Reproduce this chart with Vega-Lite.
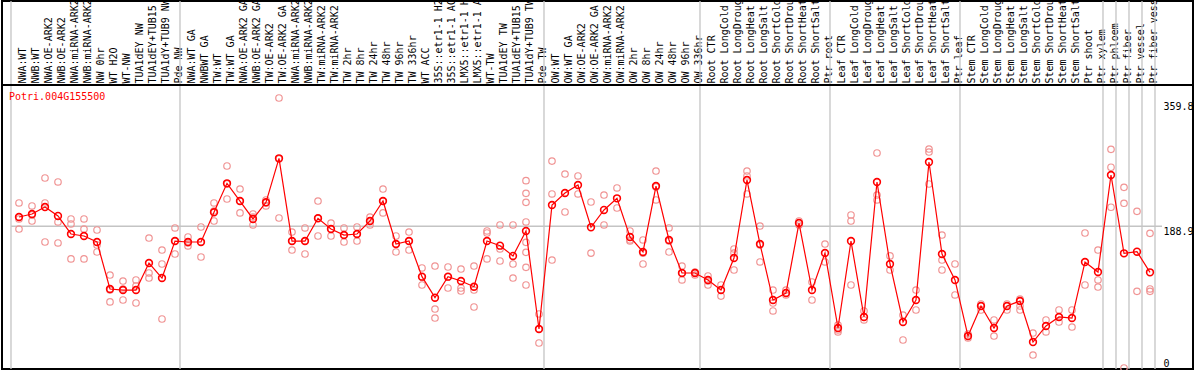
{
"$schema": "https://vega.github.io/schema/vega-lite/v6.json",
"autosize": "none",
"padding": {"left": 2, "top": 1, "right": 1, "bottom": 1},
"width": 1191,
"height": 368,
"background": "white",
"config": {"view": {"stroke": "black", "strokeWidth": 2}, "font": "DejaVu Sans Mono"},
"datasets": {
"means": [
{"cat":"NWA:WT","v":201.2},{"cat":"NWB:WT","v":205.2},{"cat":"NWA:OE-ARK2","v":214.5},{"cat":"NWB:OE-ARK2","v":202.6},
{"cat":"NWA:miRNA-ARK2","v":178.6},{"cat":"NWB:miRNA-ARK2","v":175.9},{"cat":"NW 0hr","v":167.9},{"cat":"WT H2O","v":105.3},
{"cat":"WT-NW","v":103.9},{"cat":"TUA1dEY NW","v":103.9},{"cat":"TUA1dEY+TUB15 NW","v":139.9},{"cat":"TUA1dY+TUB9 NW","v":119.9},
{"cat":"Pde NW","v":169.2},{"cat":"NWA:WT GA","v":167.9},{"cat":"NWBWT GA","v":167.9},{"cat":"TW:WT","v":207.5},
{"cat":"TW:WT GA","v":246.1},{"cat":"NWA:OE-ARK2 GA","v":222.5},{"cat":"NWB:OE-ARK2 GA","v":198.6},{"cat":"TW:OE-ARK2","v":220.8},
{"cat":"TW:OE-ARK2 GA","v":279.4},{"cat":"NWA:miRNA-ARK2 GA","v":169.2},{"cat":"NWB:miRNA-ARK2 GA","v":169.2},{"cat":"TW:miRNA-ARK2","v":199.5},
{"cat":"TW:miRNA-ARK2 GA","v":185.2},{"cat":"TW 2hr","v":177.2},{"cat":"TW 8hr","v":178.6},{"cat":"TW 24hr","v":195.9},
{"cat":"TW 48hr","v":222.5},{"cat":"TW 96hr","v":165.2},{"cat":"TW 336hr","v":169.2},{"cat":"WT ACC","v":121.7},
{"cat":"35S::etr1-1 H2O","v":93.7},{"cat":"35S::etr1-1 ACC","v":121.7},{"cat":"LMX5::etr1-1 H2O","v":115.9},{"cat":"LMX5::etr1-1 ACC","v":108.3},
{"cat":"WT-TW","v":169.2},{"cat":"TUA1dEY TW","v":163.0},{"cat":"TUA1dEY+TUB15 TW","v":149.3},{"cat":"TUA1dY+TUB9 TW","v":182.6},
{"cat":"Pde TW","v":52.0},{"cat":"OW:WT","v":217.2},{"cat":"OW:WT GA","v":233.2},{"cat":"OW:OE-ARK2","v":243.9},
{"cat":"OW:OE-ARK2 GA","v":187.5},{"cat":"OW:miRNA-ARK2","v":210.6},{"cat":"OW:miRNA-ARK2 GA","v":226.1},{"cat":"OW 2hr","v":174.6},
{"cat":"OW 8hr","v":154.6},{"cat":"OW 24hr","v":242.5},{"cat":"OW 48hr","v":170.6},{"cat":"OW 96hr","v":126.6},
{"cat":"OW 336hr","v":126.6},{"cat":"Root CTR","v":117.3},{"cat":"Root LongCold","v":103.9},{"cat":"Root LongDrought","v":146.6},
{"cat":"Root LongHeat","v":250.5},{"cat":"Root LongSalt","v":165.2},{"cat":"Root ShortCold","v":90.6},{"cat":"Root ShortDrought","v":99.9},
{"cat":"Root ShortHeat","v":193.2},{"cat":"Root ShortSalt","v":103.9},{"cat":"Ptr root","v":153.2},{"cat":"Leaf CTR","v":53.3},
{"cat":"Leaf LongCold","v":169.2},{"cat":"Leaf LongDrought","v":68.0},{"cat":"Leaf LongHeat","v":247.9},{"cat":"Leaf LongSalt","v":138.6},
{"cat":"Leaf ShortCold","v":61.3},{"cat":"Leaf ShortDrought","v":90.6},{"cat":"Leaf ShortHeat","v":274.5},{"cat":"Leaf ShortSalt","v":151.9},
{"cat":"Ptr leaf","v":117.3},{"cat":"Stem CTR","v":42.6},{"cat":"Stem LongCold","v":82.6},{"cat":"Stem LongDrought","v":53.3},
{"cat":"Stem LongHeat","v":82.6},{"cat":"Stem LongSalt","v":89.3},{"cat":"Stem ShortCold","v":34.6},{"cat":"Stem ShortDrought","v":56.0},
{"cat":"Stem ShortHeat","v":68.0},{"cat":"Stem ShortSalt","v":66.6},{"cat":"Ptr shoot","v":141.3},{"cat":"Ptr xylem","v":127.9},
{"cat":"Ptr phloem","v":257.2},{"cat":"Ptr fiber","v":152.8},{"cat":"Ptr vessel","v":155.0},{"cat":"Ptr fiber vessel","v":127.5}
],
"reps": [
{"cat":"NWA:WT","v":219.9},{"cat":"NWA:WT","v":185.2},{"cat":"NWA:WT","v":198.6},
{"cat":"NWB:WT","v":215.9},{"cat":"NWB:WT","v":195.9},{"cat":"NWB:WT","v":203.9},
{"cat":"NWA:OE-ARK2","v":253.2},{"cat":"NWA:OE-ARK2","v":219.9},{"cat":"NWA:OE-ARK2","v":167.9},
{"cat":"NWB:OE-ARK2","v":247.9},{"cat":"NWB:OE-ARK2","v":194.6},{"cat":"NWB:OE-ARK2","v":166.6},
{"cat":"NWA:miRNA-ARK2","v":198.6},{"cat":"NWA:miRNA-ARK2","v":191.9},{"cat":"NWA:miRNA-ARK2","v":145.3},
{"cat":"NWB:miRNA-ARK2","v":198.6},{"cat":"NWB:miRNA-ARK2","v":185.2},{"cat":"NWB:miRNA-ARK2","v":145.3},
{"cat":"NW 0hr","v":183.9},{"cat":"NW 0hr","v":163.9},{"cat":"NW 0hr","v":154.6},
{"cat":"WT H2O","v":123.9},{"cat":"WT H2O","v":103.9},{"cat":"WT H2O","v":88.0},
{"cat":"WT-NW","v":115.9},{"cat":"WT-NW","v":105.3},{"cat":"WT-NW","v":90.6},
{"cat":"TUA1dEY NW","v":117.3},{"cat":"TUA1dEY NW","v":109.3},{"cat":"TUA1dEY NW","v":86.6},
{"cat":"TUA1dEY+TUB15 NW","v":173.2},{"cat":"TUA1dEY+TUB15 NW","v":126.6},{"cat":"TUA1dEY+TUB15 NW","v":119.9},
{"cat":"TUA1dY+TUB9 NW","v":157.2},{"cat":"TUA1dY+TUB9 NW","v":138.6},{"cat":"TUA1dY+TUB9 NW","v":65.3},
{"cat":"Pde NW","v":186.6},{"cat":"Pde NW","v":169.2},{"cat":"Pde NW","v":151.9},
{"cat":"NWA:WT GA","v":174.6},{"cat":"NWA:WT GA","v":166.6},{"cat":"NWA:WT GA","v":162.6},
{"cat":"NWBWT GA","v":187.9},{"cat":"NWBWT GA","v":167.9},{"cat":"NWBWT GA","v":147.9},
{"cat":"TW:WT","v":219.9},{"cat":"TW:WT","v":195.9},{"cat":"TW:WT","v":209.2},
{"cat":"TW:WT GA","v":269.2},{"cat":"TW:WT GA","v":245.2},{"cat":"TW:WT GA","v":225.2},
{"cat":"NWA:OE-ARK2 GA","v":238.5},{"cat":"NWA:OE-ARK2 GA","v":222.5},{"cat":"NWA:OE-ARK2 GA","v":206.6},
{"cat":"NWB:OE-ARK2 GA","v":205.2},{"cat":"NWB:OE-ARK2 GA","v":201.2},{"cat":"NWB:OE-ARK2 GA","v":190.6},
{"cat":"TW:OE-ARK2","v":223.9},{"cat":"TW:OE-ARK2","v":219.9},{"cat":"TW:OE-ARK2","v":215.9},
{"cat":"TW:OE-ARK2 GA","v":359.8},{"cat":"TW:OE-ARK2 GA","v":278.5},{"cat":"TW:OE-ARK2 GA","v":199.9},
{"cat":"NWA:miRNA-ARK2 GA","v":181.2},{"cat":"NWA:miRNA-ARK2 GA","v":169.2},{"cat":"NWA:miRNA-ARK2 GA","v":157.2},
{"cat":"NWB:miRNA-ARK2 GA","v":186.6},{"cat":"NWB:miRNA-ARK2 GA","v":169.2},{"cat":"NWB:miRNA-ARK2 GA","v":151.9},
{"cat":"TW:miRNA-ARK2","v":222.5},{"cat":"TW:miRNA-ARK2","v":199.9},{"cat":"TW:miRNA-ARK2","v":175.9},
{"cat":"TW:miRNA-ARK2 GA","v":193.2},{"cat":"TW:miRNA-ARK2 GA","v":185.2},{"cat":"TW:miRNA-ARK2 GA","v":175.9},
{"cat":"TW 2hr","v":186.6},{"cat":"TW 2hr","v":177.2},{"cat":"TW 2hr","v":167.9},
{"cat":"TW 8hr","v":187.9},{"cat":"TW 8hr","v":178.6},{"cat":"TW 8hr","v":169.2},
{"cat":"TW 24hr","v":201.2},{"cat":"TW 24hr","v":195.9},{"cat":"TW 24hr","v":190.6},
{"cat":"TW 48hr","v":238.5},{"cat":"TW 48hr","v":222.5},{"cat":"TW 48hr","v":206.6},
{"cat":"TW 96hr","v":175.9},{"cat":"TW 96hr","v":165.2},{"cat":"TW 96hr","v":154.6},
{"cat":"TW 336hr","v":181.2},{"cat":"TW 336hr","v":169.2},{"cat":"TW 336hr","v":157.2},
{"cat":"WT ACC","v":133.3},{"cat":"WT ACC","v":121.3},{"cat":"WT ACC","v":110.6},
{"cat":"35S::etr1-1 H2O","v":135.9},{"cat":"35S::etr1-1 H2O","v":78.6},{"cat":"35S::etr1-1 H2O","v":66.6},
{"cat":"35S::etr1-1 ACC","v":134.6},{"cat":"35S::etr1-1 ACC","v":121.3},{"cat":"35S::etr1-1 ACC","v":106.6},
{"cat":"LMX5::etr1-1 H2O","v":131.9},{"cat":"LMX5::etr1-1 H2O","v":106.6},{"cat":"LMX5::etr1-1 H2O","v":102.6},
{"cat":"LMX5::etr1-1 ACC","v":135.9},{"cat":"LMX5::etr1-1 ACC","v":103.9},{"cat":"LMX5::etr1-1 ACC","v":81.3},
{"cat":"WT-TW","v":182.6},{"cat":"WT-TW","v":179.9},{"cat":"WT-TW","v":145.3},
{"cat":"TUA1dEY TW","v":190.6},{"cat":"TUA1dEY TW","v":158.6},{"cat":"TUA1dEY TW","v":142.6},
{"cat":"TUA1dEY+TUB15 TW","v":190.6},{"cat":"TUA1dEY+TUB15 TW","v":138.6},{"cat":"TUA1dEY+TUB15 TW","v":119.9},
{"cat":"TUA1dY+TUB9 TW","v":249.6},{"cat":"TUA1dY+TUB9 TW","v":232.8},{"cat":"TUA1dY+TUB9 TW","v":220.8},{"cat":"TUA1dY+TUB9 TW","v":194.6},
{"cat":"TUA1dY+TUB9 TW","v":167.5},{"cat":"TUA1dY+TUB9 TW","v":154.2},{"cat":"TUA1dY+TUB9 TW","v":134.2},{"cat":"TUA1dY+TUB9 TW","v":110.6},
{"cat":"Pde TW","v":72.0},{"cat":"Pde TW","v":52.0},{"cat":"Pde TW","v":33.3},
{"cat":"OW:WT","v":275.8},{"cat":"OW:WT","v":231.9},{"cat":"OW:WT","v":143.9},
{"cat":"OW:WT GA","v":258.5},{"cat":"OW:WT GA","v":207.9},
{"cat":"OW:OE-ARK2","v":255.9},{"cat":"OW:OE-ARK2","v":231.9},
{"cat":"OW:OE-ARK2 GA","v":221.2},{"cat":"OW:OE-ARK2 GA","v":153.2},
{"cat":"OW:miRNA-ARK2","v":230.5},{"cat":"OW:miRNA-ARK2","v":190.6},
{"cat":"OW:miRNA-ARK2 GA","v":239.9},{"cat":"OW:miRNA-ARK2 GA","v":213.2},
{"cat":"OW 2hr","v":182.6},{"cat":"OW 2hr","v":170.6},{"cat":"OW 2hr","v":169.2},
{"cat":"OW 8hr","v":170.6},{"cat":"OW 8hr","v":153.2},{"cat":"OW 8hr","v":138.6},
{"cat":"OW 24hr","v":262.5},{"cat":"OW 24hr","v":241.2},{"cat":"OW 24hr","v":223.9},
{"cat":"OW 48hr","v":186.6},{"cat":"OW 48hr","v":169.2},{"cat":"OW 48hr","v":154.6},
{"cat":"OW 96hr","v":135.9},{"cat":"OW 96hr","v":126.6},{"cat":"OW 96hr","v":117.3},
{"cat":"OW 336hr","v":127.9},{"cat":"OW 336hr","v":123.9},
{"cat":"Root CTR","v":122.6},{"cat":"Root CTR","v":115.9},{"cat":"Root CTR","v":110.6},
{"cat":"Root LongCold","v":110.6},{"cat":"Root LongCold","v":95.9},
{"cat":"Root LongDrought","v":158.6},{"cat":"Root LongDrought","v":153.2},{"cat":"Root LongDrought","v":130.6},
{"cat":"Root LongHeat","v":262.5},{"cat":"Root LongHeat","v":255.9},{"cat":"Root LongHeat","v":231.9},
{"cat":"Root LongSalt","v":189.2},{"cat":"Root LongSalt","v":163.9},{"cat":"Root LongSalt","v":141.3},
{"cat":"Root ShortCold","v":103.9},{"cat":"Root ShortCold","v":86.6},{"cat":"Root ShortCold","v":76.0},
{"cat":"Root ShortDrought","v":103.9},{"cat":"Root ShortDrought","v":97.3},
{"cat":"Root ShortHeat","v":195.9},{"cat":"Root ShortHeat","v":190.6},
{"cat":"Root ShortSalt","v":114.6},{"cat":"Root ShortSalt","v":90.6},
{"cat":"Ptr root","v":165.2},{"cat":"Ptr root","v":141.3},
{"cat":"Leaf CTR","v":57.3},{"cat":"Leaf CTR","v":50.6},{"cat":"Leaf CTR","v":48.0},
{"cat":"Leaf LongCold","v":203.9},{"cat":"Leaf LongCold","v":195.9},{"cat":"Leaf LongCold","v":110.6},
{"cat":"Leaf LongDrought","v":76.0},{"cat":"Leaf LongDrought","v":64.0},
{"cat":"Leaf LongHeat","v":286.5},{"cat":"Leaf LongHeat","v":230.5},{"cat":"Leaf LongHeat","v":223.9},
{"cat":"Leaf LongSalt","v":149.3},{"cat":"Leaf LongSalt","v":130.6},
{"cat":"Leaf ShortCold","v":70.6},{"cat":"Leaf ShortCold","v":37.3},
{"cat":"Leaf ShortDrought","v":103.9},{"cat":"Leaf ShortDrought","v":77.3},
{"cat":"Leaf ShortHeat","v":291.8},{"cat":"Leaf ShortHeat","v":287.8},{"cat":"Leaf ShortHeat","v":245.2},
{"cat":"Leaf ShortSalt","v":177.2},{"cat":"Leaf ShortSalt","v":143.9},{"cat":"Leaf ShortSalt","v":130.6},
{"cat":"Ptr leaf","v":138.6},{"cat":"Ptr leaf","v":97.3},
{"cat":"Stem CTR","v":45.3},{"cat":"Stem CTR","v":40.0},
{"cat":"Stem LongCold","v":85.3},{"cat":"Stem LongCold","v":77.3},
{"cat":"Stem LongDrought","v":64.0},{"cat":"Stem LongDrought","v":42.6},
{"cat":"Stem LongHeat","v":85.3},{"cat":"Stem LongHeat","v":77.3},
{"cat":"Stem LongSalt","v":91.9},{"cat":"Stem LongSalt","v":82.6},{"cat":"Stem LongSalt","v":77.3},
{"cat":"Stem ShortCold","v":46.6},{"cat":"Stem ShortCold","v":17.3},
{"cat":"Stem ShortDrought","v":64.0},{"cat":"Stem ShortDrought","v":48.0},
{"cat":"Stem ShortHeat","v":77.3},{"cat":"Stem ShortHeat","v":61.3},
{"cat":"Stem ShortSalt","v":77.3},{"cat":"Stem ShortSalt","v":54.6},
{"cat":"Ptr shoot","v":179.9},{"cat":"Ptr shoot","v":110.6},
{"cat":"Ptr xylem","v":157.2},{"cat":"Ptr xylem","v":117.3},{"cat":"Ptr xylem","v":107.9},
{"cat":"Ptr phloem","v":291.4},{"cat":"Ptr phloem","v":267.5},{"cat":"Ptr phloem","v":214.2},
{"cat":"Ptr fiber","v":240.8},{"cat":"Ptr fiber","v":219.5},{"cat":"Ptr fiber","v":0},
{"cat":"Ptr vessel","v":208.8},{"cat":"Ptr vessel","v":102.2},
{"cat":"Ptr fiber vessel","v":179.5},{"cat":"Ptr fiber vessel","v":105.3},{"cat":"Ptr fiber vessel","v":102.2}
],
"bounds": [
{"cat":"NWA:WT"},{"cat":"NWA:WT GA"},{"cat":"OW:WT"},{"cat":"Root CTR"},{"cat":"Leaf CTR"},
{"cat":"Stem CTR"},{"cat":"Ptr phloem"},{"cat":"Ptr fiber"},{"cat":"Ptr vessel"},{"cat":"Ptr fiber vessel"}
],
"lastcat": [{"cat":"Ptr fiber vessel"}],
"gene": [{"cat":"NWA:WT","v":359.8,"label":"Potri.004G155500"}],
"refline": [{"a":"NWA:WT","b":"Ptr fiber vessel","v":188.9}]
},
"data": {"name": "means"},
"layer": [
{
"data": {"name": "bounds"},
"mark": {"type": "rule", "color": "#c4c4c4", "strokeWidth": 1.3},
"encoding": {"x": {"field": "cat", "type": "nominal", "bandPosition": 0,
 "scale": {"type": "band", "range": [9, 1153], "paddingInner": 0, "paddingOuter": 0,
  "domain": ["NWA:WT","NWB:WT","NWA:OE-ARK2","NWB:OE-ARK2","NWA:miRNA-ARK2","NWB:miRNA-ARK2","NW 0hr","WT H2O","WT-NW","TUA1dEY NW","TUA1dEY+TUB15 NW","TUA1dY+TUB9 NW","Pde NW",
  "NWA:WT GA","NWBWT GA","TW:WT","TW:WT GA","NWA:OE-ARK2 GA","NWB:OE-ARK2 GA","TW:OE-ARK2","TW:OE-ARK2 GA","NWA:miRNA-ARK2 GA","NWB:miRNA-ARK2 GA","TW:miRNA-ARK2","TW:miRNA-ARK2 GA",
  "TW 2hr","TW 8hr","TW 24hr","TW 48hr","TW 96hr","TW 336hr","WT ACC","35S::etr1-1 H2O","35S::etr1-1 ACC","LMX5::etr1-1 H2O","LMX5::etr1-1 ACC","WT-TW","TUA1dEY TW","TUA1dEY+TUB15 TW","TUA1dY+TUB9 TW","Pde TW",
  "OW:WT","OW:WT GA","OW:OE-ARK2","OW:OE-ARK2 GA","OW:miRNA-ARK2","OW:miRNA-ARK2 GA","OW 2hr","OW 8hr","OW 24hr","OW 48hr","OW 96hr","OW 336hr",
  "Root CTR","Root LongCold","Root LongDrought","Root LongHeat","Root LongSalt","Root ShortCold","Root ShortDrought","Root ShortHeat","Root ShortSalt","Ptr root",
  "Leaf CTR","Leaf LongCold","Leaf LongDrought","Leaf LongHeat","Leaf LongSalt","Leaf ShortCold","Leaf ShortDrought","Leaf ShortHeat","Leaf ShortSalt","Ptr leaf",
  "Stem CTR","Stem LongCold","Stem LongDrought","Stem LongHeat","Stem LongSalt","Stem ShortCold","Stem ShortDrought","Stem ShortHeat","Stem ShortSalt","Ptr shoot","Ptr xylem",
  "Ptr phloem","Ptr fiber","Ptr vessel","Ptr fiber vessel"]},
 "axis": {"orient": "top", "offset": -84, "labelAngle": 270, "domain": false, "ticks": false, "grid": false,
  "labelPadding": 2, "labelOverlap": false, "labelBound": false, "labelFlush": false, "labelLimit": 300,
  "labelAlign": "left", "labelBaseline": "middle", "labelOffset": 5,
  "labelFont": "DejaVu Sans Mono", "labelFontSize": 10, "labelColor": "black", "title": null}}}
},
{
"data": {"name": "lastcat"},
"mark": {"type": "rule", "color": "#c4c4c4", "strokeWidth": 1.3},
"encoding": {"x": {"field": "cat", "type": "nominal", "bandPosition": 1}}
},
{
"data": {"name": "refline"},
"mark": {"type": "rule", "color": "#c4c4c4", "strokeWidth": 1.3, "x2Offset": 7},
"encoding": {
 "x": {"field": "a", "type": "nominal", "bandPosition": 0},
 "x2": {"field": "b", "bandPosition": 1},
 "y": {"field": "v", "type": "quantitative"}}
},
{
"mark": {"type": "rule", "color": "black", "strokeWidth": 1.5},
"encoding": {"y": {"datum": 377.1, "type": "quantitative"}}
},
{
"data": {"name": "reps"},
"mark": {"type": "point", "filled": false, "color": "#f09494", "strokeWidth": 1.2, "size": 42, "opacity": 1},
"encoding": {
 "x": {"field": "cat", "type": "nominal", "bandPosition": 0.615},
 "y": {"field": "v", "type": "quantitative"}}
},
{
"mark": {"type": "line", "color": "#ff0000", "strokeWidth": 1.2},
"encoding": {
 "x": {"field": "cat", "type": "nominal", "bandPosition": 0.615},
 "y": {"field": "v", "type": "quantitative"},
 "order": {"value": null}}
},
{
"mark": {"type": "point", "filled": false, "color": "#ff0000", "strokeWidth": 1.6, "size": 46, "opacity": 1},
"encoding": {
 "x": {"field": "cat", "type": "nominal", "bandPosition": 0.615},
 "y": {"field": "v", "type": "quantitative",
  "scale": {"domain": [0, 359.8], "range": [367, 97], "nice": false, "zero": false},
  "axis": {"orient": "right", "offset": -38, "values": [0, 188.9, 359.8], "ticks": false, "domain": false, "grid": false,
   "labelPadding": 8, "labelAlign": "left", "labelFont": "DejaVu Sans Mono", "labelFontSize": 10, "labelColor": "black",
   "labelExpr": "datum.value == 0 ? '0' : format(datum.value, '.1f')",
   "labelBaseline": {"condition": {"test": "datum.value == 0", "value": "bottom"}, "value": "top"},
   "labelOffset": {"condition": {"test": "datum.value > 300", "value": 3}, "value": 0},
   "title": null}}}
},
{
"data": {"name": "gene"},
"mark": {"type": "text", "color": "#ff0000", "align": "left", "baseline": "middle", "font": "DejaVu Sans Mono", "fontSize": 10, "dx": -2, "dy": -1},
"encoding": {
 "x": {"field": "cat", "type": "nominal", "bandPosition": 0},
 "y": {"field": "v", "type": "quantitative"},
 "text": {"field": "label"}}
}
]
}
